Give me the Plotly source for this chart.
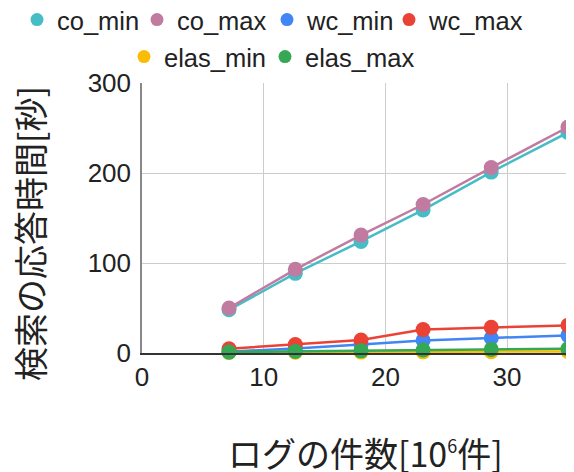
import plotly.graph_objects as go

x_logs = [7.15, 12.6, 18.0, 23.1, 28.7, 35.0]
co_min = [48, 88.5, 124, 159, 201, 245]
co_max = [50, 93, 131, 165, 206, 251]
wc_min = [1.5, 5, 9.5, 14, 16.7, 19.6]
wc_max = [4.8, 9.5, 14.5, 26, 28.5, 30.7]
elas_min = [0.5, 0.8, 1.0, 1.3, 1.5, 1.8]
elas_max = [1.0, 1.8, 2.4, 3.3, 4.0, 4.8]

names = ["co_min", "co_max", "wc_min", "wc_max", "elas_min", "elas_max"]
values = [co_min, co_max, wc_min, wc_max, elas_min, elas_max]
colors = ["#46BDC6", "#C27BA0", "#4285F4", "#EA4335", "#FBBC04", "#34A853"]

x_ticks = [0, 10, 20, 30]
y_ticks = [0, 100, 200, 300]
x_title = "ログの件数[10<sup><span style='font-size:18px'>6</span></sup>件]"
y_title = "検索の応答時間[秒]"

W, H = 574, 472
OFF = 8  # default page body margin
PL, PR, PT, PB = 142, 574, 83, 353  # plot area in screen px


def px_to_paper(sx, sy):
    return (sx - PL) / (PR - PL), (PB - sy) / (PB - PT)


fig = go.Figure()
order = ["co_min", "co_max", "elas_min", "wc_min", "wc_max", "elas_max"]
for name in order:
    i = names.index(name)
    fig.add_trace(go.Scatter(
        x=x_logs, y=values[i], mode="lines+markers", name=name,
        line=dict(color=colors[i], width=2.5),
        marker=dict(color=colors[i], size=15),
        showlegend=False, cliponaxis=False,
    ))

# legend placement (screen px of marker centre, row centre)
leg_pos = [(40, 20), (160, 20), (290, 20), (412, 20), (147, 57), (288, 57)]
legend_layout = {}
for i, name in enumerate(names):
    key = "legend" if i == 0 else f"legend{i + 1}"
    fig.add_trace(go.Scatter(
        x=[None], y=[None], mode="markers", name=name,
        marker=dict(color=colors[i], size=13),
        legend=key, showlegend=True,
    ))
    mx, my = leg_pos[i]
    legend_layout[key] = dict(
        orientation="h", xref="container", yref="container",
        x=(mx - OFF - 23) / W, xanchor="left",
        y=1 - (my - OFF) / H, yanchor="middle",
        font=dict(size=25.5, color="#222"), itemwidth=30,
        bgcolor="rgba(0,0,0,0)", borderwidth=0,
    )

font_main = "Liberation Sans, Arial, sans-serif"
font_cjk = "Noto Sans CJK JP, sans-serif"

ax_x, ax_y = px_to_paper(365, 452)
ay_x, ay_y = px_to_paper(29, 234)

fig.update_layout(
    width=W, height=H,
    margin=dict(l=PL - OFF, r=W - PR + OFF, t=PT - OFF, b=H - PB + OFF, autoexpand=False),
    plot_bgcolor="white", paper_bgcolor="white",
    font=dict(family=font_main, size=26, color="#222"),
    xaxis=dict(range=[0, 35.5], tickvals=x_ticks, ticktext=[str(v) for v in x_ticks],
               showgrid=True, gridcolor="#CCCCCC", gridwidth=1,
               zeroline=False, showline=True, linecolor="#333333", linewidth=1.5,
               ticks="", tickfont=dict(size=26), automargin=False),
    yaxis=dict(range=[0, 300], tickvals=y_ticks, ticktext=[str(v) for v in y_ticks],
               showgrid=True, gridcolor="#CCCCCC", gridwidth=1,
               zeroline=False, showline=True, linecolor="#888888", linewidth=1.5,
               ticks="", tickfont=dict(size=26), automargin=False, ticklabelstandoff=4),
    annotations=[
        dict(text=x_title, xref="paper", yref="paper", x=ax_x, y=ax_y,
             xanchor="center", yanchor="middle", showarrow=False,
             font=dict(family=font_cjk, size=34, color="#222")),
        dict(text=y_title, xref="paper", yref="paper", x=ay_x, y=ay_y,
             xanchor="center", yanchor="middle", showarrow=False, textangle=-90,
             font=dict(family=font_cjk, size=34, color="#222")),
    ],
    **legend_layout,
)

fig.write_html("out.html")
